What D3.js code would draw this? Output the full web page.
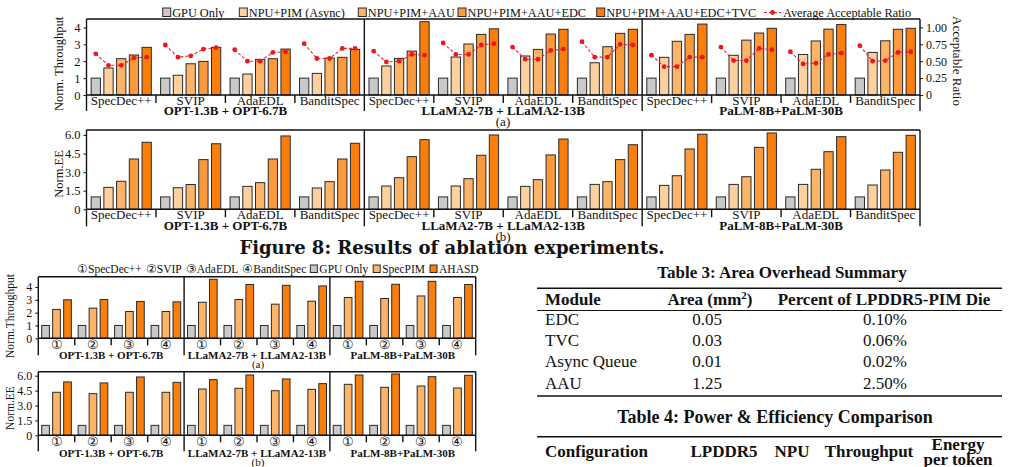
<!DOCTYPE html>
<html>
<head>
<meta charset="utf-8">
<script src="https://cdn.jsdelivr.net/npm/d3@7"></script>
<style>
  body { margin: 0; background: #fff; }
  svg { display: block; }
</style>
</head>
<body>
<script>
// ---- data ----
const models = ["OPT-1.3B + OPT-6.7B", "LLaMA2-7B + LLaMA2-13B", "PaLM-8B+PaLM-30B"];
const methods = ["SpecDec++", "SVIP", "AdaEDL", "BanditSpec"];
const methodMarks = ["①", "②", "③", "④"];
const ablationSeries = ["GPU Only", "NPU+PIM (Async)", "NPU+PIM+AAU", "NPU+PIM+AAU+EDC", "NPU+PIM+AAU+EDC+TVC"];
const compareSeries = ["GPU Only", "SpecPIM", "AHASD"];

// Fig 8(a) normalized throughput, order: model x method (12)
const thrGPU   = [1, 1, 1, 1,  1, 1, 1, 1,  1, 1, 1, 1];
const thrAsync = [1.60, 1.17, 1.24, 1.28,  1.72, 2.25, 2.31, 1.91,  2.23, 2.35, 2.40, 2.52];
const thrAAU   = [2.15, 1.85, 2.11, 2.19,  2.17, 3.02, 2.70, 2.86,  3.18, 3.25, 3.20, 3.21];
const thrEDC   = [2.37, 1.99, 2.15, 2.23,  2.60, 3.59, 3.61, 3.65,  3.59, 3.67, 3.90, 3.89];
const thrTVC   = [2.82, 2.82, 2.72, 2.70,  4.34, 3.92, 3.89, 3.89,  4.20, 3.95, 4.17, 3.95];

// average acceptable ratio (right axis)
const accGPU   = [0.61, 0.74, 0.67, 0.76,  0.65, 0.77, 0.71, 0.79,  0.59, 0.71, 0.64, 0.73];
const accAsync = [0.44, 0.56, 0.50, 0.54,  0.49, 0.60, 0.53, 0.56,  0.42, 0.51, 0.46, 0.50];
const accAAU   = [0.44, 0.58, 0.50, 0.54,  0.50, 0.60, 0.53, 0.56,  0.42, 0.51, 0.47, 0.51];
const accEDC   = [0.55, 0.68, 0.63, 0.69,  0.60, 0.74, 0.66, 0.75,  0.56, 0.69, 0.60, 0.63];
const accTVC   = [0.56, 0.70, 0.64, 0.69,  0.59, 0.76, 0.68, 0.74,  0.56, 0.67, 0.62, 0.64];

// Fig 8(b) normalized energy efficiency
const eeGPU   = [1, 1, 1, 1,  1, 1, 1, 1,  1, 1, 1, 1];
const eeAsync = [1.77, 1.74, 1.85, 1.72,  1.88, 1.88, 1.85, 2.01,  1.93, 2.01, 2.01, 1.96];
const eeAAU   = [2.26, 2.00, 2.15, 2.23,  2.55, 2.47, 2.39, 2.23,  2.71, 2.63, 3.23, 3.17];
const eeEDC   = [4.06, 4.01, 4.06, 4.06,  4.25, 4.36, 4.39, 4.01,  4.87, 5.00, 4.65, 4.60];
const eeTVC   = [5.41, 5.29, 5.92, 5.33,  5.62, 6.00, 5.67, 5.21,  6.06, 6.16, 5.86, 5.97];

// comparison figure (a) throughput, (b) EE
const spGPU     = [1, 1, 1, 1,  1, 1, 1, 1,  1, 1, 1, 1];
const spSpecPIM = [2.25, 2.35, 2.09, 2.09,  2.81, 3.02, 2.66, 2.89,  3.18, 3.10, 3.30, 3.18];
const spAHASD   = [3.00, 3.02, 2.87, 2.84,  4.60, 4.19, 4.13, 4.08,  4.44, 4.21, 4.44, 4.19];
const efGPU     = [1, 1, 1, 1,  1, 1, 1, 1,  1, 1, 1, 1];
const efSpecPIM = [4.33, 4.19, 4.33, 4.33,  4.66, 4.73, 4.49, 4.63,  5.13, 4.83, 4.96, 4.76];
const efAHASD   = [5.37, 5.27, 5.87, 5.33,  5.60, 6.07, 5.67, 5.20,  6.07, 6.17, 5.90, 6.04];

// tables
const t3Header = ["Module", "Area (mm", "Percent of LPDDR5-PIM Die"];
const t3Module = ["EDC", "TVC", "Async Queue", "AAU"];
const t3Area   = ["0.05", "0.03", "0.01", "1.25"];
const t3Pct    = ["0.10%", "0.06%", "0.02%", "2.50%"];
const t4Header = ["Configuration", "LPDDR5", "NPU", "Throughput", "Energy", "per token"];

// ---- drawing ----
const width = 1009, height = 467;
const serif = "'Liberation Serif', 'Times New Roman', serif";
const ablColors = ["#c9c9c9", "#fdd19f", "#fdb467", "#fa9a3c", "#fa7e0c"];
const cmpColors = ["#c9c9c9", "#fdb467", "#fa7e0c"];
const ink = "#111";

const svg = d3.select("body").append("svg")
    .attr("width", width)
    .attr("height", height)
    .attr("font-family", serif);

function panel(p) {
    const g = svg.append("g");
    const x0 = d3.scaleBand().domain(models).range([p.left, p.right]);
    const x1 = d3.scaleBand().domain(d3.range(methods.length)).range([0, x0.bandwidth()]);
    const x2 = d3.scaleBand().domain(d3.range(p.values.length)).range([0, x1.bandwidth()])
        .paddingInner(p.padIn).paddingOuter(p.padOut);
    const y = d3.scaleLinear().domain([0, p.yMax]).range([p.base, p.top]);
    const slotX = i => x0(models[Math.floor(i / 4)]) + x1(i % 4);

    const cells = p.values.flatMap((vals, s) => vals.map((v, i) => ({s, i, v})));
    g.selectAll("rect.bar").data(cells).join("rect")
        .attr("class", "bar")
        .attr("x", d => slotX(d.i) + x2(d.s))
        .attr("y", d => y(d.v))
        .attr("width", x2.bandwidth())
        .attr("height", d => y(0) - y(d.v))
        .attr("fill", d => p.colors[d.s])
        .attr("stroke", "#2a2a2a")
        .attr("stroke-width", 1);

    // frame + separators
    const fr = g.append("g").attr("stroke", ink).attr("stroke-width", 1.4);
    fr.append("line").attr("x1", p.left).attr("x2", p.right).attr("y1", p.top).attr("y2", p.top);
    fr.append("line").attr("x1", p.left).attr("x2", p.right).attr("y1", p.base).attr("y2", p.base);
    [p.left, p.right, x0(models[1]), x0(models[2])].forEach(x => {
        fr.append("line").attr("x1", x).attr("x2", x).attr("y1", p.top).attr("y2", p.base + p.drop);
    });
    models.forEach(m => d3.range(1, 4).forEach(k => {
        const x = x0(m) + x1(k);
        fr.append("line").attr("x1", x).attr("x2", x).attr("y1", p.base).attr("y2", p.base + p.tick);
    }));

    // y axis
    g.append("g")
        .attr("transform", `translate(${p.left},0)`)
        .call(d3.axisLeft(y).tickValues(p.ticks).tickFormat(p.fmt).tickSize(3).tickPadding(3))
        .call(a => a.select(".domain").remove())
        .call(a => a.selectAll("line").attr("stroke", ink))
        .call(a => a.selectAll("text").attr("font-family", serif).attr("font-size", p.tickFont).attr("fill", ink));

    // category labels
    d3.range(12).forEach(i => {
        g.append("text")
            .attr("x", slotX(i) + x1.bandwidth() / 2)
            .attr("y", p.catY)
            .attr("text-anchor", "middle")
            .attr("font-size", p.catFont)
            .attr("fill", ink)
            .text(p.cats[i % 4]);
    });
    models.forEach(m => {
        g.append("text")
            .attr("x", x0(m) + x0.bandwidth() / 2)
            .attr("y", p.modelY)
            .attr("text-anchor", "middle")
            .attr("font-size", p.modelFont)
            .attr("font-weight", "bold")
            .attr("fill", ink)
            .text(m);
    });
    g.append("text")
        .attr("transform", `translate(${p.labelX},${p.labelY}) rotate(-90)`)
        .attr("text-anchor", "middle")
        .attr("font-size", p.labelFont)
        .attr("fill", ink)
        .text(p.label);
    g.append("text")
        .attr("x", p.subX).attr("y", p.subY)
        .attr("text-anchor", "middle")
        .attr("font-size", p.subFont)
        .attr("fill", ink)
        .text(p.sub);

    return {x2, slotX, g};
}

// ---------- Figure 8 (a) ----------
const fa = panel({
    left: 86.5, right: 920, top: 19, base: 95, yMax: 4.5, drop: 16, tick: 8,
    values: [thrGPU, thrAsync, thrAAU, thrEDC, thrTVC], colors: ablColors,
    padIn: 0.27, padOut: 0.365,
    ticks: [0, 1, 2, 3, 4], fmt: d3.format("d"), tickFont: 12.5,
    cats: methods, catY: 104.5, catFont: 13,
    modelY: 114.5, modelFont: 13,
    label: "Norm. Throughput", labelX: 63, labelY: 64, labelFont: 12.5,
    sub: "(a)", subX: 503, subY: 125.5, subFont: 13
});

const yR = d3.scaleLinear().domain([0, 1.125]).range([95, 19]);
svg.append("g")
    .attr("transform", "translate(920,0)")
    .call(d3.axisRight(yR).tickValues([0, 0.25, 0.5, 0.75, 1]).tickFormat(d => d === 0 ? "0" : d.toFixed(2)).tickSize(3).tickPadding(3))
    .call(a => a.select(".domain").remove())
    .call(a => a.selectAll("line").attr("stroke", ink))
    .call(a => a.selectAll("text").attr("font-family", serif).attr("font-size", 12).attr("fill", ink));
svg.append("text")
    .attr("transform", "translate(953,61) rotate(90)")
    .attr("text-anchor", "middle")
    .attr("font-size", 13)
    .attr("fill", ink)
    .text("Acceptable Ratio");

const accSeries = [accGPU, accAsync, accAAU, accEDC, accTVC];
const ratioLine = d3.line().x(d => d.x).y(d => yR(d.v));
const slots = d3.range(12).map(i => accSeries.map((arr, s) => ({
    x: fa.slotX(i) + fa.x2(s) + fa.x2.bandwidth() / 2, v: arr[i]
})));
const rg = svg.append("g");
rg.selectAll("path").data(slots).join("path")
    .attr("d", ratioLine)
    .attr("fill", "none")
    .attr("stroke", "#e8242a")
    .attr("stroke-width", 1.1)
    .attr("stroke-dasharray", "3,2");
rg.selectAll("circle").data(slots.flat()).join("circle")
    .attr("cx", d => d.x).attr("cy", d => yR(d.v))
    .attr("r", 2.4)
    .attr("fill", "#f0141e");

// legend
const legX = [162.7, 239.3, 358.3, 458, 596.7];
const leg = svg.append("g").attr("font-size", 12.3).attr("fill", ink);
ablationSeries.forEach((name, i) => {
    leg.append("rect").attr("x", legX[i]).attr("y", 8).attr("width", 8).attr("height", 8.5)
        .attr("fill", ablColors[i]).attr("stroke", "#2a2a2a").attr("stroke-width", 1);
    leg.append("text").attr("x", legX[i] + 9.5).attr("y", 17).text(name);
});
leg.append("line").attr("x1", 764).attr("x2", 781).attr("y1", 12.5).attr("y2", 12.5)
    .attr("stroke", "#e8242a").attr("stroke-width", 1.1).attr("stroke-dasharray", "3,2");
leg.append("circle").attr("cx", 772.5).attr("cy", 12.5).attr("r", 2.4).attr("fill", "#f0141e");
leg.append("text").attr("x", 783).attr("y", 17).text("Average Acceptable Ratio");

// ---------- Figure 8 (b) ----------
panel({
    left: 86.5, right: 920, top: 130, base: 209.3, yMax: 6.4, drop: 17, tick: 8,
    values: [eeGPU, eeAsync, eeAAU, eeEDC, eeTVC], colors: ablColors,
    padIn: 0.27, padOut: 0.365,
    ticks: [0, 1.5, 3, 4.5, 6], fmt: d => d === 0 ? "0" : d.toFixed(1), tickFont: 12.5,
    cats: methods, catY: 219, catFont: 13,
    modelY: 230, modelFont: 13,
    label: "Norm.EE", labelX: 63, labelY: 174, labelFont: 12.5,
    sub: "(b)", subX: 503, subY: 240.5, subFont: 13
});

svg.append("text")
    .attr("x", 452).attr("y", 254)
    .attr("text-anchor", "middle")
    .attr("font-family", "'DejaVu Serif', serif")
    .attr("font-size", 18)
    .attr("font-weight", "bold")
    .attr("fill", ink)
    .text("Figure 8: Results of ablation experiments.");

// ---------- comparison (a) ----------
panel({
    left: 38.3, right: 475.7, top: 276.7, base: 338.3, yMax: 4.8, drop: 17, tick: 7,
    values: [spGPU, spSpecPIM, spAHASD], colors: cmpColors,
    padIn: 0.3, padOut: 0.31,
    ticks: [0, 1, 2, 3, 4], fmt: d3.format("d"), tickFont: 12,
    cats: methodMarks, catY: 348.5, catFont: 12.5,
    modelY: 359, modelFont: 11,
    label: "Norm.Throughput", labelX: 14, labelY: 316, labelFont: 11.5,
    sub: "(a)", subX: 258, subY: 368, subFont: 11
});

const sLeg = svg.append("g").attr("font-size", 11.5).attr("fill", ink);
let lx = 77;
methods.forEach((m, i) => {
    const t = sLeg.append("text").attr("x", lx).attr("y", 273).text(methodMarks[i] + m);
    lx += t.node().getComputedTextLength() + 4;
});
compareSeries.forEach((name, i) => {
    sLeg.append("rect").attr("x", lx).attr("y", 265).attr("width", 7).attr("height", 7.5)
        .attr("fill", cmpColors[i]).attr("stroke", "#2a2a2a").attr("stroke-width", 1);
    const t = sLeg.append("text").attr("x", lx + 9).attr("y", 273).text(name);
    lx += 9 + t.node().getComputedTextLength() + 5;
});

// ---------- comparison (b) ----------
panel({
    left: 38.3, right: 475.7, top: 371.7, base: 435.3, yMax: 6.4, drop: 16, tick: 7,
    values: [efGPU, efSpecPIM, efAHASD], colors: cmpColors,
    padIn: 0.3, padOut: 0.31,
    ticks: [0, 1.5, 3, 4.5, 6], fmt: d => d === 0 ? "0" : d.toFixed(1), tickFont: 12,
    cats: methodMarks, catY: 445.5, catFont: 12.5,
    modelY: 456.5, modelFont: 11,
    label: "Norm.EE", labelX: 14, labelY: 408, labelFont: 11.5,
    sub: "(b)", subX: 258, subY: 466, subFont: 11
});

// ---------- Table 3 ----------
const tb = svg.append("g").attr("fill", ink).attr("font-size", 17);
tb.append("text").attr("x", 782).attr("y", 278).attr("text-anchor", "middle")
    .attr("font-weight", "bold").text("Table 3: Area Overhead Summary");
const rule = (y, w) => tb.append("line").attr("x1", 537).attr("x2", 1002).attr("y1", y).attr("y2", y)
    .attr("stroke", ink).attr("stroke-width", w);
rule(288.3, 1.6);
rule(310.5, 1);
rule(396, 1.6);
tb.append("text").attr("x", 545).attr("y", 305).attr("font-weight", "bold").text(t3Header[0]);
const areaHead = tb.append("text").attr("x", 710).attr("y", 305).attr("text-anchor", "middle").attr("font-weight", "bold");
areaHead.append("tspan").text(t3Header[1]);
areaHead.append("tspan").attr("dy", -6).attr("font-size", 11).text("2");
areaHead.append("tspan").attr("dy", 6).text(")");
tb.append("text").attr("x", 884).attr("y", 305).attr("text-anchor", "middle").attr("font-weight", "bold").text(t3Header[2]);
t3Module.forEach((m, i) => {
    const yy = 325 + i * 21.2;
    tb.append("text").attr("x", 545).attr("y", yy).text(m);
    tb.append("text").attr("x", 707).attr("y", yy).attr("text-anchor", "middle").text(t3Area[i]);
    tb.append("text").attr("x", 885).attr("y", yy).attr("text-anchor", "middle").text(t3Pct[i]);
});

// ---------- Table 4 ----------
tb.append("text").attr("x", 775).attr("y", 423).attr("text-anchor", "middle")
    .attr("font-size", 18).attr("font-weight", "bold").text("Table 4: Power & Efficiency Comparison");
rule(436.7, 1.6);
const t4 = tb.append("g").attr("font-weight", "bold");
t4.append("text").attr("x", 545).attr("y", 457).text(t4Header[0]);
t4.append("text").attr("x", 724).attr("y", 457).attr("text-anchor", "middle").text(t4Header[1]);
t4.append("text").attr("x", 792).attr("y", 457).attr("text-anchor", "middle").text(t4Header[2]);
t4.append("text").attr("x", 869).attr("y", 457).attr("text-anchor", "middle").text(t4Header[3]);
t4.append("text").attr("x", 958).attr("y", 450).attr("text-anchor", "middle").text(t4Header[4]);
t4.append("text").attr("x", 958).attr("y", 465).attr("text-anchor", "middle").text(t4Header[5]);
</script>
</body>
</html>
